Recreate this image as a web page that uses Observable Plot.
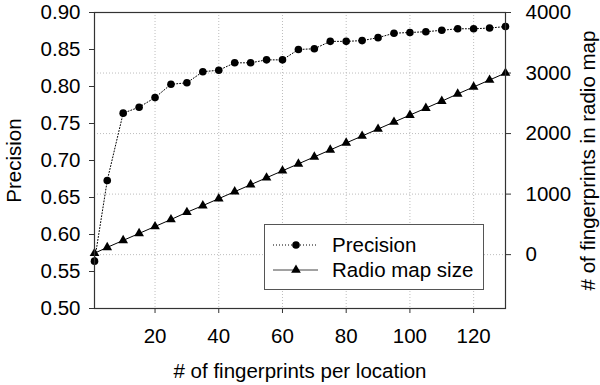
<!DOCTYPE html>
<html>
<head>
<meta charset="utf-8">
<script src="https://cdn.jsdelivr.net/npm/d3@7"></script>
<script src="https://cdn.jsdelivr.net/npm/@observablehq/plot@0.6"></script>
<style>
  html, body { margin: 0; padding: 0; background: #fff; }
  #wrap { position: relative; width: 600px; height: 385px; font-family: "Liberation Sans", Arial, sans-serif; }
  #legend { position: absolute; left: 264px; top: 224px; }
</style>
</head>
<body>
<div id="wrap"><div id="chart"></div><div id="legend"></div></div>
<script>
// ---- data ----
const fingerprintsPerLocation = [1, 5, 10, 15, 20, 25, 30, 35, 40, 45, 50, 55, 60, 65, 70, 75, 80, 85, 90, 95, 100, 105, 110, 115, 120, 125, 130];
const precision = [0.564, 0.673, 0.764, 0.772, 0.785, 0.803, 0.805, 0.820, 0.822, 0.832, 0.832, 0.836, 0.836, 0.850, 0.851, 0.861, 0.861, 0.862, 0.866, 0.872, 0.873, 0.874, 0.876, 0.878, 0.878, 0.879, 0.881];
const radioMapSize = [23, 120, 235, 350, 465, 580, 700, 810, 925, 1040, 1155, 1270, 1385, 1500, 1615, 1730, 1845, 1960, 2075, 2190, 2305, 2420, 2535, 2655, 2770, 2885, 3000];
const xTicks = [20, 40, 60, 80, 100, 120];
const precisionTicks = [0.50, 0.55, 0.60, 0.65, 0.70, 0.75, 0.80, 0.85, 0.90];
const radioTicks = [0, 1000, 2000, 3000, 4000];
const seriesNames = ["Precision", "Radio map size"];

// ---- dual axis mapping ----
const pDomain = [0.5, 0.9];
const rDomain = [-890, 4000];
const toP = v => pDomain[0] + (v - rDomain[0]) / (rDomain[1] - rDomain[0]) * (pDomain[1] - pDomain[0]);
const fromP = p => rDomain[0] + (p - pDomain[0]) / (pDomain[1] - pDomain[0]) * (rDomain[1] - rDomain[0]);

const rows = fingerprintsPerLocation.map((x, i) => ({x, precision: precision[i], radio: toP(radioMapSize[i])}));

const axisColor = "#333";
const gridColor = "#bdbdbd";
const fontSize = "20.5px";

const chart = Plot.plot({
  width: 600,
  height: 385,
  marginLeft: 94,
  marginRight: 95,
  marginTop: 12,
  marginBottom: 77,
  style: {fontFamily: "'Liberation Sans', Arial, sans-serif", fontSize, color: "black", background: "white", overflow: "visible"},
  x: {domain: [1, 130]},
  y: {domain: pDomain},
  marks: [
    Plot.gridX(xTicks, {stroke: gridColor, strokeOpacity: 1, strokeDasharray: "1,2"}),
    Plot.gridY(radioTicks.filter(t => t < 4000).map(toP), {stroke: gridColor, strokeOpacity: 1, strokeDasharray: "1,2"}),
    Plot.axisX(xTicks, {tickSize: 5, tickPadding: 15, stroke: axisColor, fill: "black",
      label: "# of fingerprints per location", labelAnchor: "center", labelArrow: "none", labelOffset: 69}),
    Plot.axisY(precisionTicks, {anchor: "left", tickSize: 5, tickPadding: 9, stroke: axisColor, fill: "black",
      tickFormat: d => d.toFixed(2),
      label: "Precision", labelAnchor: "center", labelArrow: "none", labelOffset: 88}),
    Plot.axisY(radioTicks.map(toP), {anchor: "right", tickSize: 5, tickPadding: 15, stroke: axisColor, fill: "black",
      tickFormat: d => String(Math.round(fromP(d) / 1000) * 1000),
      label: "# of fingerprints in radio map", labelAnchor: "center", labelArrow: "none", labelOffset: 89}),
    Plot.line(rows, {x: "x", y: "precision", stroke: "black", strokeWidth: 1, strokeDasharray: "1,2"}),
    Plot.dot(rows, {x: "x", y: "precision", fill: "black", r: 3.8}),
    Plot.line(rows, {x: "x", y: "radio", stroke: "black", strokeWidth: 1}),
    Plot.dot(rows, {x: "x", y: "radio", fill: "black", symbol: "triangle", r: 3.6}),
    Plot.frame({stroke: axisColor, strokeWidth: 1.2})
  ]
});
document.getElementById("chart").appendChild(chart);

// ---- legend (inside plot area) ----
const lw = 220, lh = 66;
const lsvg = d3.select("#legend").append("svg").attr("width", lw).attr("height", lh)
  .style("font-family", "'Liberation Sans', Arial, sans-serif").style("font-size", fontSize);
lsvg.append("rect").attr("x", 0.5).attr("y", 0.5).attr("width", lw - 1).attr("height", lh - 1)
  .attr("fill", "white").attr("stroke", "#555").attr("stroke-width", 1);
seriesNames.forEach((name, i) => {
  const cy = 21 + i * 25;
  const g = lsvg.append("g");
  g.append("line").attr("x1", 9).attr("x2", 54).attr("y1", cy).attr("y2", cy)
    .attr("stroke", i === 0 ? "black" : "#444").attr("stroke-width", 1)
    .attr("stroke-dasharray", i === 0 ? "1,2" : null);
  if (i === 0) {
    g.append("circle").attr("cx", 32).attr("cy", cy).attr("r", 3.8).attr("fill", "black");
  } else {
    g.append("path").attr("transform", `translate(32,${cy})`)
      .attr("d", d3.symbol(d3.symbolTriangle, Math.PI * 3.6 * 3.6)()).attr("fill", "black");
  }
  g.append("text").attr("x", 68).attr("y", cy).attr("dy", "0.35em").attr("fill", "black").text(name);
});
</script>
</body>
</html>
